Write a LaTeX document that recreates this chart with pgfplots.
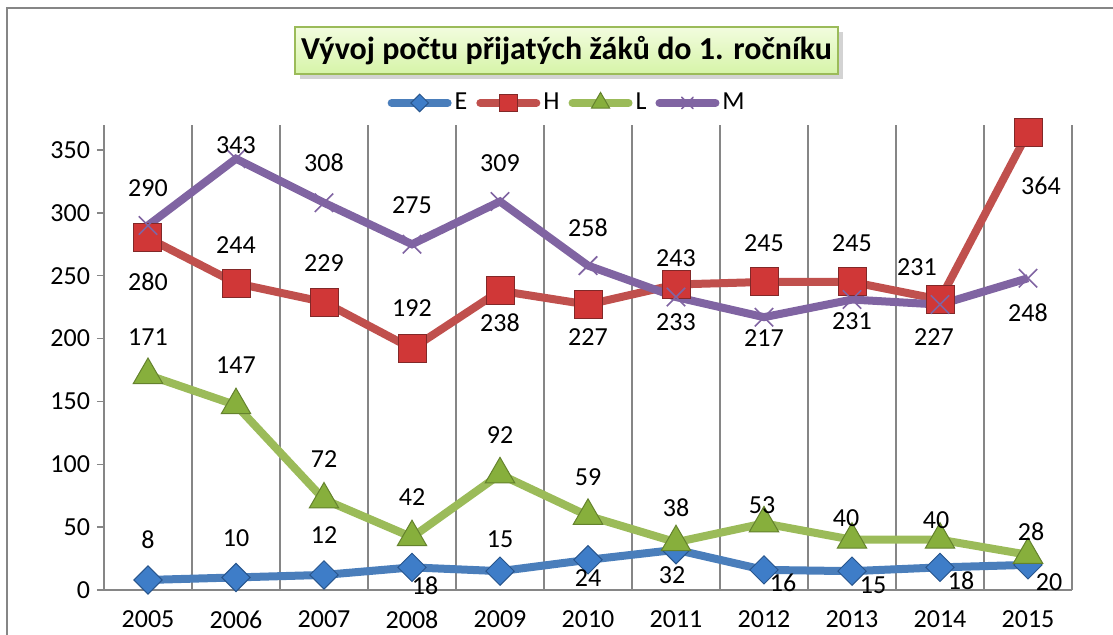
\documentclass[border=0pt]{standalone}
\usepackage{fontspec}
\setmainfont{Carlito}
\usepackage{pgfplots}
\usepackage{pgfplotstable}
\pgfplotsset{compat=1.18}
\usetikzlibrary{shadows}

\definecolor{Eline}{RGB}{74,126,187}
\definecolor{Efill}{RGB}{62,125,200}
\definecolor{Edraw}{RGB}{40,85,140}
\definecolor{Hline}{RGB}{192,80,77}
\definecolor{Hfill}{RGB}{208,55,55}
\definecolor{Hdraw}{RGB}{130,40,40}
\definecolor{Lline}{RGB}{155,187,89}
\definecolor{Lfill}{RGB}{135,175,60}
\definecolor{Ldraw}{RGB}{100,130,45}
\definecolor{Mline}{RGB}{128,100,162}
\definecolor{gridgray}{RGB}{134,134,134}
\definecolor{titletop}{RGB}{242,252,222}
\definecolor{titlebot}{RGB}{214,244,168}
\definecolor{titleborder}{RGB}{155,187,89}

\newcommand{\lbl}{\fontsize{13}{15}\selectfont}

\pgfplotstableread{
x E Edx Edy H Hdx Hdy L Ldx Ldy M Mdx Mdy
0 8 0 20 280 0 -22 171 0 19 290 0 18.5
1 10 0 19.5 244 0 19 147 0 20 343 0 7
2 12 0 20 229 0 19.5 72 0 20 308 0 20
3 18 6.5 -9 192 0 20.5 42 0 20 275 0 19.5
4 15 0 16 238 0 -16 92 0 19.5 309 0 19
5 24 0 -9 227 0 -16 59 0 19.5 258 0 19
6 32 -2 -12.5 243 0 13 38 0 17.5 233 0 -12.5
7 16 9.5 -6.5 245 0 19.5 53 -1 9 217 0 -10.5
8 15 10.5 -7 245 0 19.5 40 -3 11 231 0 -11
9 18 10.5 -6.5 231 -11.5 16 40 -2 10 227 -3 -16
10 20 10.5 -8.5 364 6.5 -26.5 28 1.5 11.5 248 0 -17.5
}\data

\begin{document}
\begin{tikzpicture}
\useasboundingbox (-52pt,-22pt) rectangle (504.5pt,295pt);
% outer chart border
\draw[gridgray, line width=0.7pt] (-48.5pt,-40pt) rectangle (530pt,291pt);
\begin{axis}[
  at={(0pt,0pt)}, anchor=south west,
  scale only axis, width=484pt, height=232.6pt,
  xmin=-0.5, xmax=10.5, ymin=0, ymax=370,
  clip=false,
  axis x line*=bottom, axis y line*=left,
  axis line style={gridgray, line width=0.75pt},
  xtick={0,...,10},
  xticklabels={2005,2006,2007,2008,2009,2010,2011,2012,2013,2014,2015},
  minor xtick={-0.5,0.5,...,10.5},
  xminorgrids,
  minor grid style={gridgray, line width=0.75pt},
  ytick={0,50,...,350},
  tick align=outside,
  major tick length=3.5pt,
  minor tick length=3pt,
  xtick style={draw=none},
  ytick style={gridgray, line width=0.75pt},
  minor x tick style={gridgray, line width=0.75pt},
  tick label style={font=\lbl, text=black},
  /pgf/number format/assume math mode=true,
  xticklabel style={yshift=-3.5pt},
  yticklabel style={xshift=0pt},
  point meta=y,
  every node near coord/.style={anchor=center, xshift=\dx pt, yshift=\dy pt, font=\lbl, text=black, inner sep=0pt},
  legend columns=4,
  legend style={at={(0.479,1.047)}, anchor=center, draw=none, fill=none, font=\lbl,
    inner sep=0pt, nodes={inner xsep=1.5pt},
    /tikz/every odd column/.append style={column sep=0pt},
    /tikz/every even column/.append style={column sep=3pt}},
  legend image code/.code={\draw[#1, line cap=round, mark repeat=2, mark phase=2, every mark/.append style={scale=0.62}] plot coordinates {(0pt,0pt) (14pt,0pt) (28pt,0pt)};},
]
\addplot[Eline, line width=4pt, mark=square*, mark size=5pt,
  mark options={rotate=45, fill=Efill, draw=Edraw, line width=0.5pt},
  nodes near coords,
  visualization depends on={\thisrow{Edx} \as \dx},
  visualization depends on={\thisrow{Edy} \as \dy}]
  table[x=x,y=E]{\data};
\addlegendentry{E}
\addplot[Hline, line width=4pt, mark=square*, mark size=7pt,
  mark options={fill=Hfill, draw=Hdraw, line width=0.5pt},
  nodes near coords,
  visualization depends on={\thisrow{Hdx} \as \dx},
  visualization depends on={\thisrow{Hdy} \as \dy}]
  table[x=x,y=H]{\data};
\addlegendentry{H}
\addplot[Lline, line width=4pt, mark=triangle*, mark size=8.5pt,
  mark options={fill=Lfill, draw=Ldraw, line width=0.5pt},
  nodes near coords,
  visualization depends on={\thisrow{Ldx} \as \dx},
  visualization depends on={\thisrow{Ldy} \as \dy}]
  table[x=x,y=L]{\data};
\addlegendentry{L}
\addplot[Mline, line width=4pt, mark=x, mark size=6.5pt,
  mark options={draw=Mline, line width=0.8pt},
  nodes near coords,
  visualization depends on={\thisrow{Mdx} \as \dx},
  visualization depends on={\thisrow{Mdy} \as \dy}]
  table[x=x,y=M]{\data};
\addlegendentry{M}
\end{axis}
\node[draw=titleborder, line width=1pt, top color=titletop, bottom color=titlebot,
  minimum width=271.5pt, minimum height=23.5pt, inner sep=0pt,
  drop shadow={shadow xshift=2.5pt, shadow yshift=-2.5pt, opacity=0.35},
  font=\fontsize{16}{19}\selectfont\bfseries]
  at (231.25pt,269.75pt) {Vývoj počtu přijatých žáků do 1. ročníku};
\end{tikzpicture}
\end{document}
